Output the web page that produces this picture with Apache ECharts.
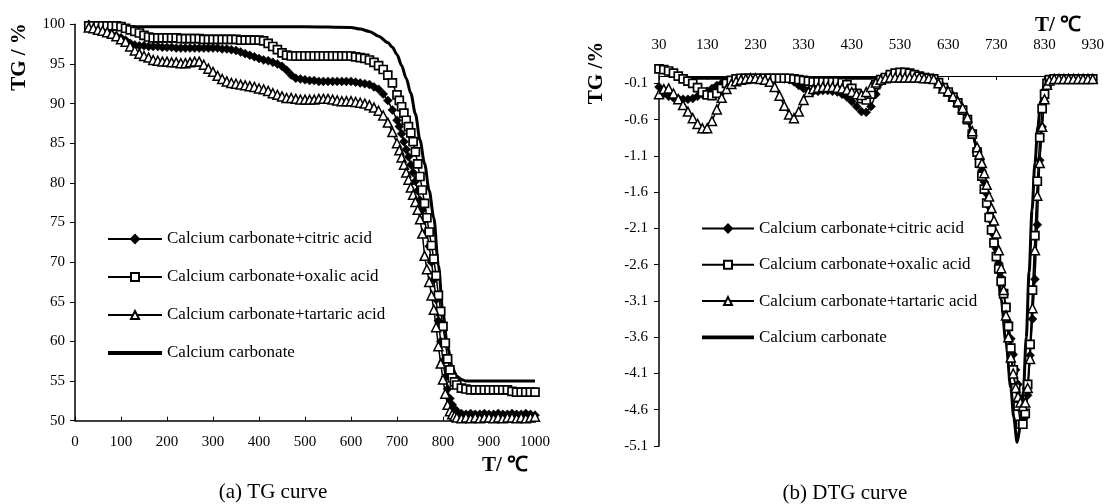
<!DOCTYPE html>
<html>
<head>
<meta charset="utf-8">
<script src="https://cdn.jsdelivr.net/npm/echarts@6/dist/echarts.min.js"></script>
<style>
  html, body { margin: 0; padding: 0; background: #fff; }
  #chart { width: 1107px; height: 504px; }
</style>
</head>
<body>
<div id="chart"></div>
<script>
// series names
const names = [
  'Calcium carbonate+citric acid',
  'Calcium carbonate+oxalic acid',
  'Calcium carbonate+tartaric acid',
  'Calcium carbonate'
];

// (a) TG curve, temperature in ℃, mass in %
const tgTemp = [
  30, 40, 50, 60, 70, 80, 90, 100, 110, 120,
  130, 140, 150, 160, 170, 180, 190, 200, 210, 220,
  230, 240, 250, 260, 270, 280, 290, 300, 310, 320,
  330, 340, 350, 360, 370, 380, 390, 400, 410, 420,
  430, 440, 450, 460, 470, 480, 490, 500, 510, 520,
  530, 540, 550, 560, 570, 580, 590, 600, 610, 620,
  630, 640, 650, 660, 670, 680, 690,
  700, 705, 710, 715, 720, 725, 730, 735, 740, 745, 750, 755, 760, 765,
  770, 775, 780, 785, 790, 795, 800, 805, 810, 815, 820, 825, 830,
  840, 850, 860, 870, 880, 890, 900, 910, 920, 930, 940, 950, 960, 970, 980, 990, 1000
];
const citricTG = [
  100.0, 99.5, 99.3, 99.0, 98.9, 98.7, 98.5, 98.3, 98.0, 97.6,
  97.4, 97.3, 97.3, 97.2, 97.2, 97.2, 97.1, 97.1, 97.1, 97.0,
  97.0, 97.0, 97.0, 97.0, 97.0, 97.0, 97.0, 97.0, 97.0, 96.9,
  96.9, 96.8, 96.7, 96.5, 96.3, 96.1, 95.9, 95.7, 95.5, 95.4,
  95.2, 95.0, 94.7, 94.2, 93.6, 93.2, 93.1, 93.0, 92.9, 92.9,
  92.8, 92.8, 92.8, 92.8, 92.8, 92.8, 92.8, 92.8, 92.7, 92.6,
  92.5, 92.4, 92.1, 91.8, 91.2, 90.4, 89.2,
  87.9, 87.1, 86.2, 85.2, 84.2, 83.3, 82.3, 81.3, 80.2, 79.0, 77.8, 76.6, 75.3, 73.8,
  72.0, 70.0, 67.8, 65.3, 62.6, 60.0, 57.5, 55.5, 54.0, 52.8, 52.0, 51.5, 51.2,
  50.9, 50.8, 50.9, 50.8, 50.8, 50.9, 50.8, 50.8, 50.9, 50.8, 50.8, 50.9, 50.8, 50.8, 50.9, 50.8, 50.7
];
const oxalicTG = [
  99.8, 99.8, 99.8, 99.8, 99.8, 99.8, 99.8, 99.7, 99.5, 99.3,
  99.1, 98.9, 98.6, 98.4, 98.3, 98.3, 98.3, 98.3, 98.3, 98.3,
  98.2, 98.2, 98.2, 98.2, 98.2, 98.1, 98.1, 98.1, 98.1, 98.1,
  98.1, 98.1, 98.1, 98.0, 98.0, 98.0, 98.0, 98.0, 97.9, 97.6,
  97.2, 96.8, 96.4, 96.1, 96.0, 96.0, 96.0, 96.0, 96.0, 96.0,
  96.0, 96.0, 96.0, 96.0, 96.0, 96.0, 96.0, 96.0, 95.9, 95.8,
  95.7, 95.5, 95.2, 94.8, 94.3, 93.6, 92.6,
  91.1, 90.4, 89.6, 88.8, 87.9, 87.1, 86.3, 85.2, 83.9, 82.4, 80.8, 79.1, 77.4, 75.6,
  73.8, 72.1, 70.4, 68.3, 65.8, 63.8, 61.9, 59.8, 57.8, 56.4, 55.4, 54.9, 54.5,
  54.1, 54.0, 53.9, 53.9, 53.9, 53.9, 53.9, 53.9, 53.9, 53.9, 53.9, 53.7, 53.6, 53.6, 53.6, 53.6, 53.6
];
const tartaricTG = [
  99.6, 99.5, 99.3, 99.2, 99.0, 98.8, 98.5, 98.1, 97.8, 97.2,
  96.7, 96.3, 96.0, 95.8, 95.5, 95.4, 95.3, 95.3, 95.2, 95.2,
  95.1, 95.1, 95.2, 95.3, 95.3, 94.9, 94.4, 94.0, 93.5, 93.1,
  92.8, 92.6, 92.5, 92.4, 92.3, 92.2, 92.1, 91.9, 91.8, 91.6,
  91.3, 91.1, 90.9, 90.7, 90.7, 90.6, 90.5, 90.5, 90.5, 90.5,
  90.6, 90.6, 90.6, 90.5, 90.4, 90.3, 90.3, 90.3, 90.2, 90.1,
  90.0, 89.8, 89.5, 89.1, 88.5, 87.6, 86.4,
  85.0, 84.1, 83.2, 82.3, 81.3, 80.4, 79.4, 78.5, 77.6, 76.6, 75.4, 73.6, 70.8, 69.1,
  67.5, 65.8, 64.0, 61.8, 59.4, 57.2, 55.2, 53.4, 52.0, 51.2, 50.8, 50.6, 50.4,
  50.3, 50.4, 50.3, 50.4, 50.3, 50.4, 50.4, 50.3, 50.4, 50.3, 50.4, 50.4, 50.3, 50.4, 50.3, 50.4, 50.5
];
const caTemp = [30, 100, 200, 300, 400, 500, 600, 620, 640, 660, 680, 690, 700, 710, 720, 730,
  740, 750, 760, 770, 780, 790, 800, 810, 820, 830, 840, 850, 900, 950, 1000];
const caTG = [100, 99.7, 99.7, 99.7, 99.7, 99.7, 99.6, 99.4, 99.1, 98.5, 97.7, 97.1, 96.2, 94.8, 93.2, 91.3,
  88.7, 85.4, 82.4, 79.0, 75.6, 69.6, 63.5, 59.3, 56.7, 55.6, 55.2, 55.0, 55.0, 55.0, 55.0];

// (b) DTG curve
const dtgTemp = [
  30, 40, 50, 60, 70, 80, 90, 100, 110, 120,
  130, 140, 150, 160, 170, 180, 190, 200, 210, 220,
  230, 240, 250, 260, 270, 280, 290, 300, 310, 320,
  330, 340, 350, 360, 370, 380, 390, 400, 410, 420,
  430, 440, 450, 460, 470, 480, 490, 500, 510, 520,
  530, 540, 550, 560, 570, 580, 590, 600, 610, 620,
  630, 640, 650, 660, 670, 680,
  690, 695, 700, 705, 710, 715, 720, 725, 730, 735, 740, 745, 750, 755, 760, 765,
  770, 775, 780, 785, 790, 795, 800, 805, 810, 815, 820, 825, 830, 835, 840,
  850, 860, 870, 880, 890, 900, 910, 920, 930
];
const citricDTG = [
  -0.15, -0.24, -0.28, -0.30, -0.31, -0.32, -0.32, -0.31, -0.28, -0.25,
  -0.21, -0.17, -0.13, -0.10, -0.08, -0.06, -0.05, -0.04, -0.04, -0.04,
  -0.03, -0.03, -0.03, -0.03, -0.03, -0.03, -0.04, -0.05, -0.08, -0.13,
  -0.17, -0.20, -0.21, -0.21, -0.20, -0.20, -0.21, -0.22, -0.25, -0.29,
  -0.35, -0.42, -0.49, -0.50, -0.42, -0.25, -0.09, -0.04, -0.02, -0.02,
  -0.02, -0.02, -0.02, -0.02, -0.02, -0.03, -0.03, -0.04, -0.08, -0.15,
  -0.21, -0.28, -0.36, -0.45, -0.58, -0.78,
  -1.00, -1.14, -1.30, -1.46, -1.62, -1.80, -2.00, -2.19, -2.38, -2.58, -2.78, -2.98, -3.18, -3.40, -3.62, -3.84,
  -4.05, -4.25, -4.45, -4.62, -4.70, -4.40, -3.85, -3.35, -2.80, -2.05, -1.16, -0.70, -0.35, -0.12, -0.05,
  -0.04, -0.04, -0.04, -0.04, -0.04, -0.04, -0.04, -0.04, -0.04
];
const oxalicDTG = [
  0.10, 0.09, 0.07, 0.04, 0.00, -0.04, -0.07, -0.10, -0.16, -0.22,
  -0.26, -0.27, -0.24, -0.17, -0.10, -0.06, -0.04, -0.03, -0.03, -0.03,
  -0.03, -0.03, -0.03, -0.03, -0.03, -0.03, -0.03, -0.03, -0.04, -0.05,
  -0.06, -0.07, -0.08, -0.08, -0.08, -0.08, -0.08, -0.08, -0.09, -0.12,
  -0.17, -0.24, -0.31, -0.33, -0.25, -0.12, -0.05, -0.02, 0.02, 0.04,
  0.05, 0.05, 0.04, 0.02, 0.00, -0.02, -0.03, -0.04, -0.09, -0.16,
  -0.22, -0.29, -0.37, -0.47, -0.60, -0.80,
  -1.05, -1.20, -1.38, -1.56, -1.75, -1.95, -2.12, -2.30, -2.49, -2.66, -2.83, -3.00, -3.19, -3.45, -3.75, -4.05,
  -4.30, -4.55, -4.80, -4.80, -4.65, -4.25, -3.70, -2.95, -2.20, -1.45, -0.85, -0.45, -0.25, -0.10, -0.05,
  -0.04, -0.04, -0.04, -0.04, -0.04, -0.04, -0.04, -0.04, -0.04
];
const tartaricDTG = [
  -0.25, -0.18, -0.17, -0.24, -0.32, -0.40, -0.49, -0.58, -0.66, -0.72,
  -0.72, -0.62, -0.46, -0.30, -0.18, -0.11, -0.07, -0.05, -0.04, -0.03,
  -0.03, -0.04, -0.05, -0.08, -0.15, -0.27, -0.41, -0.53, -0.58, -0.49,
  -0.33, -0.22, -0.18, -0.16, -0.15, -0.15, -0.15, -0.16, -0.17, -0.19,
  -0.22, -0.25, -0.26, -0.22, -0.15, -0.09, -0.05, -0.03, -0.02, -0.02,
  -0.02, -0.02, -0.02, -0.02, -0.02, -0.03, -0.03, -0.04, -0.10, -0.17,
  -0.21, -0.28, -0.35, -0.44, -0.57, -0.76,
  -0.98, -1.08, -1.20, -1.34, -1.50, -1.66, -1.82, -1.99, -2.17, -2.40, -2.65, -2.95, -3.30, -3.60, -3.88, -4.10,
  -4.30, -4.42, -4.50, -4.55, -4.50, -4.30, -3.90, -3.20, -2.40, -1.65, -1.20, -0.70, -0.32, -0.12, -0.06,
  -0.04, -0.04, -0.04, -0.04, -0.04, -0.04, -0.04, -0.04, -0.04
];
const caDtgTemp = [30, 40, 50, 60, 70, 100, 200, 300, 400, 500, 580, 600, 610, 620, 630,
  640, 650, 660, 670, 680, 690, 700, 710, 720, 730, 740, 750, 760, 766, 773,
  780, 786, 792, 798, 804, 810, 816, 822, 828, 834, 840, 880, 930];
const caDTG = [0.08, 0.05, 0.02, 0.00, -0.02, -0.03, -0.03, -0.03, -0.03, -0.03, -0.04, -0.08, -0.12, -0.18, -0.24,
  -0.31, -0.39, -0.49, -0.62, -0.79, -1.00, -1.28, -1.60, -2.00, -2.50, -3.08, -3.68, -4.30, -4.70, -5.05,
  -4.82, -4.35, -3.60, -2.70, -1.85, -1.20, -0.70, -0.35, -0.15, -0.06, -0.04, -0.04, -0.04];

const serif = '"Liberation Serif", "Times New Roman", serif';

const pairs = (xs, ys) => xs.map((x, i) => [x, ys[i]]);

const markerStyles = [
  { symbol: 'diamond', symbolSize: 9, itemStyle: { color: '#000', borderColor: '#000', borderWidth: 0.5 } },
  { symbol: 'rect', symbolSize: 8, itemStyle: { color: '#fff', borderColor: '#000', borderWidth: 1.7 } },
  { symbol: 'triangle', symbolSize: 9, itemStyle: { color: '#fff', borderColor: '#000', borderWidth: 1.5 } }
];

const markerSeries = (idx, xs, ys, axis) => Object.assign({
  name: names[idx],
  type: 'line',
  xAxisIndex: axis,
  yAxisIndex: axis,
  showSymbol: true,
  lineStyle: { color: '#000', width: 1.5 },
  data: pairs(xs, ys)
}, markerStyles[idx]);

const plainSeries = (xs, ys, axis) => ({
  name: names[3],
  type: 'line',
  xAxisIndex: axis,
  yAxisIndex: axis,
  symbol: 'none',
  smooth: 0.3,
  smoothMonotone: 'x',
  lineStyle: { color: '#000', width: 3 },
  itemStyle: { color: '#000' },
  data: pairs(xs, ys)
});

const tickText = { color: '#000', fontFamily: serif, fontSize: 15 };
const legendText = { color: '#000', fontFamily: serif, fontSize: 17 };
const legendData = names.slice(0, 3).concat([{ name: names[3], icon: 'path://M0,0H54V4H0Z' }]);

const chart = echarts.init(document.getElementById('chart'));
chart.setOption({
  animation: false,
  backgroundColor: '#fff',
  grid: [
    { left: 75, top: 24.3, width: 460, height: 396.4 },
    { left: 659, top: 68.8, width: 436.5, height: 377.2 }
  ],
  xAxis: [
    {
      gridIndex: 0, type: 'value', min: 0, max: 1000, interval: 100,
      axisLine: { lineStyle: { color: '#000', width: 1.5 } },
      axisTick: { inside: true, length: 4, lineStyle: { color: '#000' } },
      axisLabel: Object.assign({ margin: 14, formatter: v => String(v) }, tickText),
      splitLine: { show: false }
    },
    {
      gridIndex: 1, type: 'value', min: 30, max: 930, interval: 100, position: 'top',
      axisLine: { onZero: true, lineStyle: { color: '#000', width: 1 } },
      axisTick: { inside: true, length: 4, lineStyle: { color: '#000' } },
      axisLabel: Object.assign({ margin: 16, formatter: v => String(v) }, tickText),
      splitLine: { show: false }
    }
  ],
  yAxis: [
    {
      gridIndex: 0, type: 'value', min: 50, max: 100, interval: 5,
      axisLine: { show: true, lineStyle: { color: '#000', width: 1.5 } },
      axisTick: { show: true, length: 5, lineStyle: { color: '#000' } },
      axisLabel: Object.assign({ margin: 10 }, tickText),
      splitLine: { show: false }
    },
    {
      gridIndex: 1, type: 'value', min: -5.1, max: 0.1, interval: 0.5,
      axisLine: { show: true, onZero: false, lineStyle: { color: '#000', width: 1.5 } },
      axisTick: { show: true, length: 5, lineStyle: { color: '#000' } },
      axisLabel: Object.assign({
        margin: 11, showMaxLabel: false,
        formatter: v => v.toFixed(1)
      }, tickText),
      splitLine: { show: false }
    }
  ],
  legend: [
    {
      data: legendData, orient: 'vertical', left: 107, top: 230.5, padding: 0,
      itemWidth: 54, itemHeight: 10, itemGap: 21,
      textStyle: legendText, selectedMode: false
    },
    {
      data: legendData, orient: 'vertical', left: 701, top: 220, padding: 0,
      itemWidth: 52, itemHeight: 10, itemGap: 19.3,
      textStyle: legendText, selectedMode: false
    }
  ],
  graphic: [
    { type: 'text', x: 505, y: 466, style: { text: 'T/ ℃', font: 'bold 21px ' + serif, fill: '#000', align: 'center', verticalAlign: 'middle' } },
    { type: 'text', x: 1058, y: 26, style: { text: 'T/ ℃', font: 'bold 21px ' + serif, fill: '#000', align: 'center', verticalAlign: 'middle' } },
    { type: 'text', x: 20, y: 57, rotation: Math.PI / 2, style: { text: 'TG / %', font: 'bold 21px ' + serif, fill: '#000', align: 'center', verticalAlign: 'middle' } },
    { type: 'text', x: 597, y: 73, rotation: Math.PI / 2, style: { text: 'TG /%', font: 'bold 21px ' + serif, fill: '#000', align: 'center', verticalAlign: 'middle' } },
    { type: 'text', x: 273, y: 492, style: { text: '(a) TG curve', font: '21px ' + serif, fill: '#000', align: 'center', verticalAlign: 'middle' } },
    { type: 'text', x: 845, y: 493, style: { text: '(b) DTG curve', font: '21px ' + serif, fill: '#000', align: 'center', verticalAlign: 'middle' } }
  ],
  series: [
    markerSeries(0, tgTemp, citricTG, 0),
    markerSeries(1, tgTemp, oxalicTG, 0),
    markerSeries(2, tgTemp, tartaricTG, 0),
    plainSeries(caTemp, caTG, 0),
    markerSeries(0, dtgTemp, citricDTG, 1),
    markerSeries(1, dtgTemp, oxalicDTG, 1),
    markerSeries(2, dtgTemp, tartaricDTG, 1),
    plainSeries(caDtgTemp, caDTG, 1)
  ]
});
</script>
</body>
</html>
